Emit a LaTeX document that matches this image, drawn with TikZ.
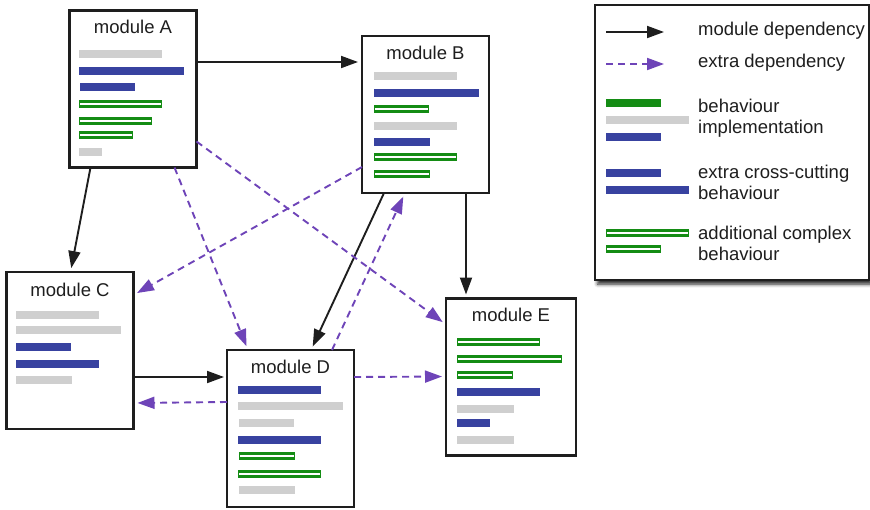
\documentclass[tikz,border=0pt]{standalone}
\usepackage{fontspec}
\setmainfont{Liberation Sans}
\usetikzlibrary{arrows.meta,calc,shadows.blur}

\definecolor{blu}{RGB}{56,66,160}
\definecolor{gry}{RGB}{207,207,207}
\definecolor{grn}{RGB}{20,140,20}
\definecolor{purp}{RGB}{110,68,184}
\definecolor{ink}{RGB}{30,30,30}

% plain behaviour bar: colour, x from, x to, y centre
\newcommand\behbar[4]{\fill[#1] (#2,#4-4.4) rectangle (#3,#4+4.4);}
% complex behaviour bar: green outline with a white core
\newcommand\cplxbar[3]{%
  \fill[grn] (#1,#3-4.4) rectangle (#2,#3+4.4);
  \fill[white] (#1+0.8,#3-1.4) rectangle (#2-0.8,#3+1.4);}

\begin{document}
\begin{tikzpicture}[x=1pt,y=-1pt,
  txt/.style={font=\fontsize{18.5}{21}\selectfont, text=ink, inner sep=0pt},
  module/.style={draw=ink, line width=2.2pt, fill=white, inner sep=0pt,
    outer sep=0pt, minimum width=127pt, minimum height=157pt},
  ttl/.style={txt, anchor=base},
  lbl/.style={txt, anchor=base west},
  tipshape/.style={-{Triangle[length=17pt,width=12pt]}},
  dep/.style={draw=ink, line width=1.9pt, tipshape, shorten >=4pt},
  xdep/.style={draw=purp, line width=1.9pt, dash pattern=on 7pt off 5pt,
    tipshape, shorten >=4pt},
  legendbox/.style={draw=ink, line width=2pt, fill=white,
    minimum width=274pt, minimum height=275pt,
    blur shadow={shadow xshift=2.5pt, shadow yshift=-4pt,
      shadow blur radius=3.5pt, shadow opacity=85}}]

\useasboundingbox (0,0) rectangle (870,509);

% module boxes
\node[module] (A) at (133,89) {};
\node[module] (B) at (425.5,114.5) {};
\node[module] (C) at (70,350.5) {};
\node[module] (D) at (290.5,428.5) {};
\node[module, minimum width=130pt] (E) at (511,377) {};

\node[ttl] (At) at ($(A.north)+(0,23)$) {module A};
\node[ttl] (Bt) at ($(B.north)+(0,23)$) {module B};
\node[ttl] (Ct) at ($(C.north)+(0,24.5)$) {module C};
\node[ttl] (Dt) at ($(D.north)+(0,23)$) {module D};
\node[ttl] (Et) at ($(E.north)+(0,23)$) {module E};

% module dependencies
\draw[dep] ($(A.north east)+(0,51.5)$) -- ($(B.north west)+(0,26)$);
\draw[dep] ($(A.south west)+(21,0)$) -- ($(C.north west)+(64,0)$);
\draw[dep] ($(B.south west)+(22,0)$) -- ($(D.north west)+(84,0)$);
\draw[dep] ($(B.south west)+(104,0)$) -- ($(E.north west)+(20,0)$);
\draw[dep, shorten >=3pt] ($(C.north east)+(0,105)$) -- ($(D.north west)+(0,27)$);

% extra dependencies
\draw[xdep] ($(A.south west)+(105,0)$) -- ($(D.north west)+(21,0)$);
\draw[xdep] ($(A.north east)+(0,131)$) -- ($(E.north west)+(0,26)$);
\draw[xdep] ($(B.north west)+(0,131)$) -- ($(C.north east)+(0,23)$);
\draw[xdep] ($(D.north west)+(105,0)$) -- ($(B.south west)+(43,0)$);
\draw[xdep] ($(D.north west)+(0,52)$) -- ($(C.north east)+(0,131)$);
\draw[xdep] ($(D.north east)+(0,27)$) -- ($(E.north west)+(0,78)$);

% module A contents
\behbar{gry}{79}{162}{54}
\behbar{blu}{79}{184}{71}
\behbar{blu}{80}{135}{87}
\cplxbar{79}{162}{104}
\cplxbar{79}{152}{121}
\cplxbar{79}{133}{135}
\behbar{gry}{79}{102}{152}

% module B contents
\behbar{gry}{374}{457}{76}
\behbar{blu}{374}{479}{93}
\cplxbar{374}{429}{109}
\behbar{gry}{374}{457}{126}
\behbar{blu}{374}{430}{142}
\cplxbar{374}{457}{157}
\cplxbar{374}{430}{174}

% module C contents
\behbar{gry}{16}{99}{315}
\behbar{gry}{16}{121}{330}
\behbar{blu}{16}{71}{347}
\behbar{blu}{16}{99}{364}
\behbar{gry}{16}{72}{380}

% module D contents
\behbar{blu}{238}{321}{390}
\behbar{gry}{238}{343}{406}
\behbar{gry}{239}{294}{423}
\behbar{blu}{238}{321}{440}
\cplxbar{239}{295}{456}
\cplxbar{238}{321}{474}
\behbar{gry}{239}{295}{490}

% module E contents
\cplxbar{457}{540}{342}
\cplxbar{457}{562}{359}
\cplxbar{457}{513}{375}
\behbar{blu}{457}{540}{392}
\behbar{gry}{457}{514}{409}
\behbar{blu}{457}{490}{423}
\behbar{gry}{457}{514}{440}

% legend
\node[legendbox] (legend) at (732,142.5) {};
\coordinate (k1a) at (606,32);
\coordinate (k1b) at (664,32);
\coordinate (k2a) at (606,64);
\coordinate (k2b) at (664,64);
\draw[dep, shorten >=0pt] (k1a) -- (k1b);
\draw[xdep, shorten >=0pt] (k2a) -- (k2b);
\node[lbl] (l1) at (698,35) {module dependency};
\node[lbl] (l2) at (698,67) {extra dependency};

\behbar{grn}{606}{661}{103}
\behbar{gry}{606}{689}{120}
\behbar{blu}{606}{661}{137}
\node[lbl] (l3a) at (698,112) {behaviour};
\node[lbl] (l3b) at (698,133) {implementation};

\behbar{blu}{606}{661}{173}
\behbar{blu}{606}{689}{190}
\node[lbl] (l4a) at (698,178) {extra cross-cutting};
\node[lbl] (l4b) at (698,199) {behaviour};

\cplxbar{606}{689}{233}
\cplxbar{606}{661}{249}
\node[lbl] (l5a) at (698,239) {additional complex};
\node[lbl] (l5b) at (698,260) {behaviour};

\end{tikzpicture}
\end{document}
